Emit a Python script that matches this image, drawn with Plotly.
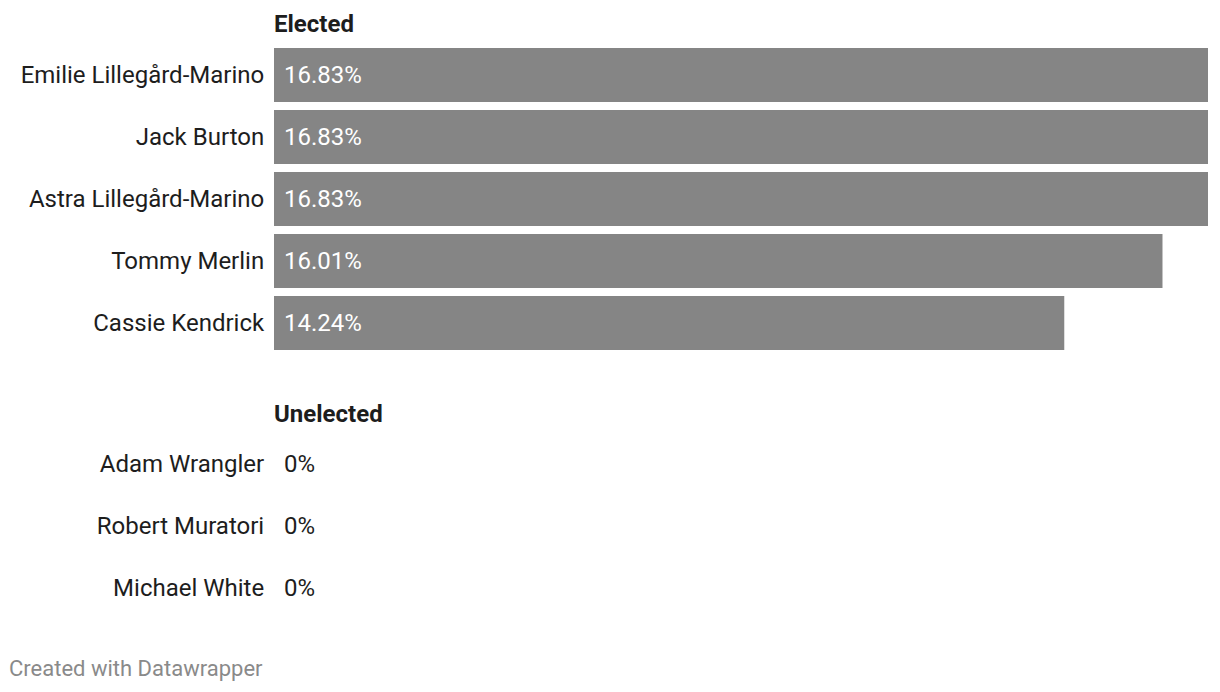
import plotly.graph_objects as go

elected_names = ["Emilie Lillegård-Marino", "Jack Burton", "Astra Lillegård-Marino",
                 "Tommy Merlin", "Cassie Kendrick"]
elected_values = [16.83, 16.83, 16.83, 16.01, 14.24]
unelected_names = ["Adam Wrangler", "Robert Muratori", "Michael White"]
unelected_values = [0, 0, 0]

W, H = 1220, 692
FONT = "Roboto"
TXT = "#1d1d1d"
BAR = "#858585"
xmax = max(elected_values)

fig = go.Figure()

fig.add_trace(go.Bar(x=elected_values, y=elected_names, orientation="h",
                     marker=dict(color=BAR, line=dict(width=0)),
                     xaxis="x", yaxis="y", hoverinfo="skip"))
fig.add_trace(go.Bar(x=unelected_values, y=unelected_names, orientation="h",
                     marker=dict(color=BAR, line=dict(width=0)),
                     xaxis="x2", yaxis="y2", hoverinfo="skip"))

annotations = []
for n, v in zip(elected_names, elected_values):
    annotations.append(dict(x=0, y=n, xref="x", yref="y", text=f"{v:.2f}%",
                            showarrow=False, xanchor="left", yanchor="middle", xshift=8, yshift=0.5,
                            font=dict(family=FONT, size=24, color="white" if v > 0 else TXT)))
for n, v in zip(unelected_names, unelected_values):
    annotations.append(dict(x=0, y=n, xref="x2", yref="y2", text=f"{v:g}%",
                            showarrow=False, xanchor="left", yanchor="middle", xshift=8, yshift=0.5,
                            font=dict(family=FONT, size=24, color="white" if v > 0 else TXT)))

annotations.append(dict(x=272 / W, y=1 - 24 / H, xref="paper", yref="paper", text="<b>Elected</b>",
                        showarrow=False, xanchor="left", yanchor="middle",
                        font=dict(family=FONT, size=24, color=TXT)))
annotations.append(dict(x=272 / W, y=1 - 414 / H, xref="paper", yref="paper", text="<b>Unelected</b>",
                        showarrow=False, xanchor="left", yanchor="middle",
                        font=dict(family=FONT, size=24, color=TXT)))
annotations.append(dict(x=7 / W, y=1 - 668 / H, xref="paper", yref="paper", text="Created with Datawrapper",
                        showarrow=False, xanchor="left", yanchor="middle",
                        font=dict(family=FONT, size=22, color="#8a8a8a")))

xdom = [274 / W, 1208 / W]
axis_common = dict(showgrid=False, zeroline=False, showticklabels=False, showline=False, fixedrange=True)
yaxis_common = dict(showgrid=False, zeroline=False, showline=False, ticks="outside", ticklen=4,
                    tickcolor="rgba(0,0,0,0)", tickfont=dict(family=FONT, size=24, color=TXT),
                    autorange="reversed", fixedrange=True)

fig.update_layout(
    width=W, height=H,
    margin=dict(l=0, r=0, t=0, b=0),
    paper_bgcolor="white", plot_bgcolor="white",
    showlegend=False, bargap=8 / 62,
    xaxis=dict(domain=xdom, range=[0, xmax], anchor="y", **axis_common),
    xaxis2=dict(domain=xdom, range=[0, xmax], anchor="y2", **axis_common),
    yaxis=dict(domain=[1 - 354 / H, 1 - 44 / H], anchor="x", **yaxis_common),
    yaxis2=dict(domain=[1 - 619 / H, 1 - 433 / H], anchor="x2", **yaxis_common),
    annotations=annotations,
)

fig.write_html("out.html")
